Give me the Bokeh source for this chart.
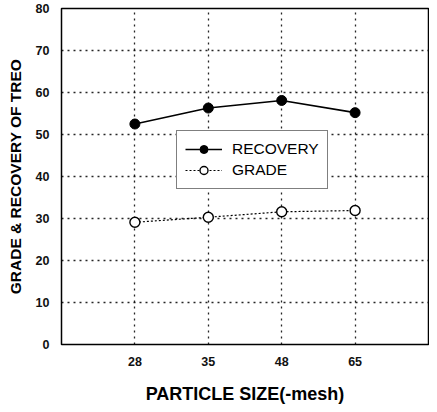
from bokeh.plotting import figure
from bokeh.models import FactorRange, Range1d, Legend, LegendItem, FixedTicker, ColumnDataSource
from bokeh.embed import file_html
from bokeh.resources import INLINE

sizes = ["28", "35", "48", "65"]
recovery = [52.5, 56.3, 58.1, 55.2]
grade = [29.1, 30.3, 31.6, 31.9]
y_ticks = [0, 10, 20, 30, 40, 50, 60, 70, 80]

src = ColumnDataSource(dict(x=sizes, rec=recovery, grade=grade))

p = figure(frame_width=367, frame_height=336, output_backend="svg", toolbar_location=None,
           x_range=FactorRange(factors=sizes, range_padding=0.5, range_padding_units="absolute"),
           y_range=Range1d(0, 80),
           min_border_left=61, min_border_right=1, min_border_top=8, min_border_bottom=60)

p.background_fill_color = "white"
p.border_fill_color = "white"
p.outline_line_color = "black"
p.outline_line_width = 1.5

for ax in (p.xaxis[0], p.yaxis[0]):
    ax.axis_line_color = None
    ax.major_tick_line_color = None
    ax.minor_tick_line_color = None
    ax.major_label_text_font = "Liberation Sans"
    ax.major_label_text_font_size = "12.5px"
    ax.major_label_text_font_style = "bold"
    ax.major_label_text_color = "#111111"
    ax.axis_label_text_font = "Liberation Sans"
    ax.axis_label_text_font_style = "bold"
    ax.axis_label_text_color = "black"

p.yaxis.ticker = FixedTicker(ticks=y_ticks)
p.yaxis.major_label_standoff = 6
p.yaxis.axis_label = "GRADE & RECOVERY OF TREO"
p.yaxis.axis_label_text_font_size = "15.5px"
p.yaxis.axis_label_standoff = 9

p.xaxis.major_label_standoff = 6
p.xaxis.axis_label = "PARTICLE SIZE(-mesh)"
p.xaxis.axis_label_text_font_size = "18px"
p.xaxis.axis_label_standoff = 15

for g in (p.xgrid[0], p.ygrid[0]):
    g.grid_line_color = "black"
    g.grid_line_dash = "2 4"
    g.grid_line_width = 1.3
    g.grid_line_alpha = 0.85

p.ygrid.ticker = FixedTicker(ticks=y_ticks[1:-1])

r1l = p.line("x", "rec", source=src, line_color="black", line_width=1.6)
r1s = p.scatter("x", "rec", source=src, size=10, fill_color="black", line_color="black")
r2l = p.line("x", "grade", source=src, line_color="black", line_width=1.2, line_dash="2 2")
r2s = p.scatter("x", "grade", source=src, size=10, fill_color="white", line_color="black", line_width=1.4)

legend = Legend(items=[LegendItem(label="RECOVERY", renderers=[r1l, r1s]),
                       LegendItem(label="GRADE", renderers=[r2l, r2s])],
                location=(115, 155), margin=0, padding=8, spacing=1,
                glyph_width=37, glyph_height=20, label_height=20, label_standoff=10,
                label_text_font="Liberation Sans", label_text_font_size="15.5px",
                label_text_color="black",
                border_line_color="black", border_line_width=1.5,
                background_fill_color="white", background_fill_alpha=1)
p.add_layout(legend, "center")

open("out.html", "w").write(file_html(p, INLINE))
